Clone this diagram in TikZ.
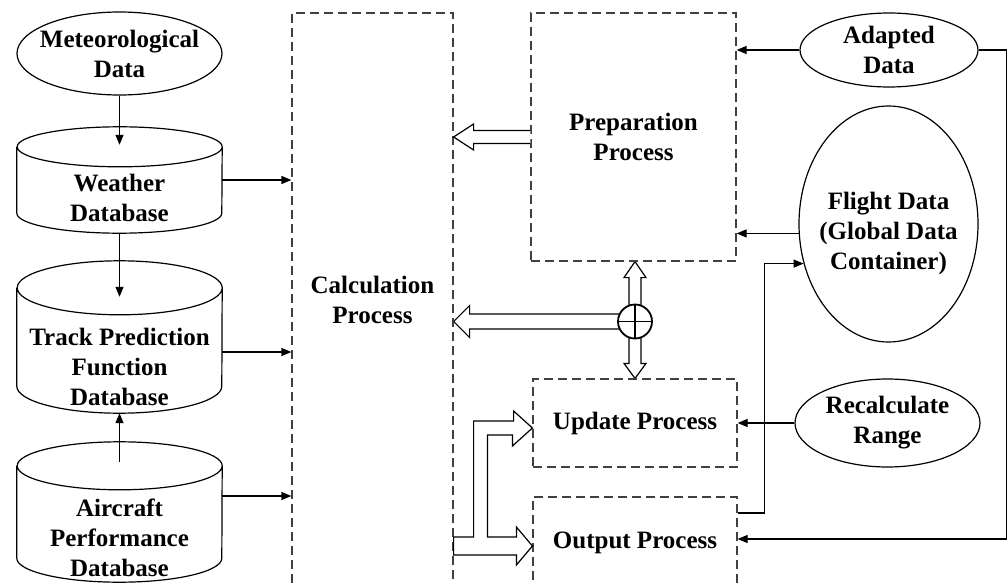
\documentclass[tikz,border=0pt]{standalone}
\usepackage{fontspec}
\setmainfont{Liberation Serif}
\usetikzlibrary{arrows.meta,calc,shapes.geometric,backgrounds}
\newcommand{\bigbold}{\fontsize{25}{30}\selectfont\bfseries}
\tikzset{
  conn/.style={-{Triangle[length=10pt,width=8pt]}, line width=1.2pt},
  fat/.style={draw=black, line width=1.2pt, fill=white, line join=miter},
  proc box/.style={draw=black!75, dash pattern=on 9pt off 5pt,
    line width=1.2pt, font=\bigbold, align=center},
  data ellipse/.style={ellipse, draw, line width=1.2pt, inner sep=0pt},
  db box/.style={rectangle, minimum width=205pt, inner sep=0pt},
  txt/.style={font=\bigbold, align=center},
  junction/.style={circle, draw, line width=1.8pt, fill=white,
    minimum size=34pt, inner sep=0pt,
    path picture={\draw[line width=1.5pt]
      (path picture bounding box.north) -- (path picture bounding box.south)
      (path picture bounding box.west) -- (path picture bounding box.east);}}
}
\newcommand{\dbcyl}[2]{%
  \draw[line width=1.2pt] ([yshift=-#2]#1.north west) -- ([yshift=#2]#1.south west)
    arc[start angle=180, end angle=360, x radius=102.5pt, y radius=#2]
    -- ([yshift=-#2]#1.north east)
    arc[start angle=0, end angle=360, x radius=102.5pt, y radius=#2];
}
\newcommand{\fatarrow}[5]{%
  \coordinate (fah) at ($(#2)!#5!(#1)$);
  \draw[fat] ($(#1)!#3!90:(#2)$) -- ($(fah)!#3!90:(#2)$) -- ($(fah)!#4!90:(#2)$)
    -- (#2) -- ($(fah)!#4!-90:(#2)$) -- ($(fah)!#3!-90:(#2)$) -- ($(#1)!#3!-90:(#2)$);
}

\begin{document}
\begin{tikzpicture}[x=1pt, y=-1pt]
  \useasboundingbox (0,0) rectangle (1008,583);
  \node[data ellipse, minimum width=205pt, minimum height=83pt,
    label={[txt]center:Meteorological\\Data}] (met) at (119.5,53.5) {};
  \node[db box, minimum height=106pt,
    label={[txt, yshift=-17.5pt]center:Weather\\Database}] (wdb) at (119.5,180) {};
  \node[db box, minimum height=152pt,
    label={[txt, yshift=-30pt]center:Track Prediction\\Function\\Database}] (tdb) at (119.5,337) {};
  \node[db box, minimum height=140pt,
    label={[txt, yshift=-26pt]center:Aircraft\\Performance\\Database}] (adb) at (119.5,512) {};
  \dbcyl{wdb}{20pt}
  \dbcyl{tdb}{27pt}
  \dbcyl{adb}{24pt}

  \node[proc box, minimum width=161pt, minimum height=573pt] (calc) at (372.5,299.5) {Calculation\\Process};
  \node[proc box, minimum width=205pt, minimum height=248pt] (prep) at (633.5,137) {Preparation\\Process};
  \node[proc box, minimum width=204pt, minimum height=88pt] (upd) at (635,423) {Update Process};
  \node[proc box, minimum width=204pt, minimum height=92pt] (out) at (635,543) {Output Process};
  \node[junction] (jn) at (635,321.5) {};

  \node[data ellipse, minimum width=178pt, minimum height=74pt,
    label={[txt]center:Adapted\\Data}] (adp) at (889,50) {};
  \node[data ellipse, minimum width=179pt, minimum height=236pt,
    label={[txt, yshift=-9pt]center:Flight Data\\(Global Data\\Container)}] (fd) at (888.5,224) {};
  \node[data ellipse, minimum width=185pt, minimum height=88pt,
    label={[txt]center:Recalculate\\Range}] (rr) at (887.5,423) {};

  \draw[conn] (met.south) -- ([yshift=-18pt]wdb.north);
  \draw[conn] (wdb.south) -- ([yshift=-36pt]tdb.north);
  \draw[conn] ([yshift=-20pt]adb.north) -- (tdb.south);
  \draw[conn] (wdb.east) -- (wdb.east -| calc.west);
  \draw[conn] ([yshift=-15pt]tdb.east) coordinate (tdbout) -- (tdbout -| calc.west);
  \draw[conn] ([yshift=16pt]adb.east) coordinate (adbout) -- (adbout -| calc.west);

  \draw[conn] (adp.west) -- (adp.west -| prep.east);
  \draw[conn] (adp.east) -- ++(28,0) |- ([yshift=4pt]out.east);
  \draw[conn] (fd.186) -- (fd.186 -| prep.east);
  \draw[conn] ([yshift=30pt]out.east) -- ++(27,0) |- (fd.205);
  \draw[conn] (rr.west) -- (rr.west -| upd.east);

  \coordinate (prepTip) at (calc.east |- prep.west);
  \fatarrow{prep.west}{prepTip}{6.5pt}{13pt}{20pt}
  \begin{scope}[on background layer]
    \coordinate (jnL) at (calc.east |- jn.center);
    \coordinate (jnU) at (jn.center |- prep.south);
    \coordinate (jnD) at (jn.center |- upd.north);
    \fatarrow{jn.center}{jnL}{7.5pt}{16pt}{16pt}
    \fatarrow{jn.center}{jnU}{6pt}{11pt}{16pt}
    \fatarrow{jn.center}{jnD}{6pt}{11pt}{15pt}
  \end{scope}

  \coordinate (f1) at ($(out.west)+(0,3)$);
  \coordinate (f2) at ($(upd.west)+(0,5)$);
  \coordinate (f0) at (calc.east |- f1);
  \draw[fat] ($(f0)+(0,-9)$) -- ++(20,0) -- ++(0,-116) -- ++(40,0) -- ++(0,-10) -- (f2)
    -- ++(-20,18) -- ++(0,-11) -- ++(-25,0) -- ++(0,102) -- ++(29,0) -- ++(0,-10) -- (f1)
    -- ++(-16,19) -- ++(0,-10) -- ($(f0)+(0,9)$) -- cycle;
\end{tikzpicture}
\end{document}
